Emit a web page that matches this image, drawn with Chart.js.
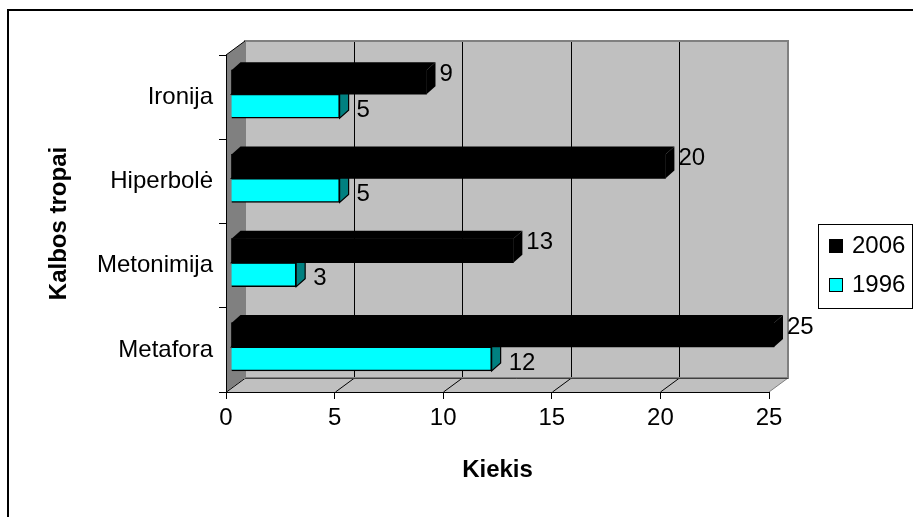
<!DOCTYPE html>
<html>
<head>
<meta charset="utf-8">
<script src="https://cdn.jsdelivr.net/npm/chart.js@4.4.0/dist/chart.umd.min.js"></script>
<style>
  html, body { margin: 0; padding: 0; background: #fff; overflow: hidden; }
  #wrap { width: 913px; height: 517px; }
</style>
</head>
<body>
<div id="wrap"><canvas id="c" width="913" height="517"></canvas></div>
<script>
// Data
const categories = ['Ironija', 'Hiperbolė', 'Metonimija', 'Metafora'];
const values2006 = [9, 20, 13, 25];
const values1996 = [5, 5, 3, 12];
const seriesNames = ['2006', '1996'];
const valueTicks = [0, 5, 10, 15, 20, 25];

const FONT = "'Liberation Sans', Arial, Helvetica, sans-serif";

// Oblique 3D look: wall depth, bar placement inside the depth, bar thickness in depth
const WALL = { dx: 19, dy: -14 };
const BAR_SHIFT = { dx: 5, dy: -3 };
const BAR_DEPTH = { dx: 9, dy: -8 };

const faceStyle = {
  0: { top: '#000000', side: '#000000', stroke: null },
  1: { top: '#00c0c0', side: '#008080', stroke: '#000000' }
};

function poly(ctx, pts, fill, stroke, lw) {
  ctx.beginPath();
  ctx.moveTo(pts[0][0], pts[0][1]);
  for (let i = 1; i < pts.length; i++) ctx.lineTo(pts[i][0], pts[i][1]);
  ctx.closePath();
  if (fill) { ctx.fillStyle = fill; ctx.fill(); }
  if (stroke) { ctx.strokeStyle = stroke; ctx.lineWidth = lw || 1; ctx.stroke(); }
}

const room3d = {
  id: 'room3d',
  beforeDraw(chart) {
    const { ctx, chartArea: a, scales: { x } } = chart;
    const L = a.left, R = a.right, T = a.top, B = a.bottom;
    const dx = WALL.dx, dy = WALL.dy;
    ctx.save();
    ctx.fillStyle = '#ffffff';
    ctx.fillRect(0, 0, chart.width, chart.height);

    // outer frame
    ctx.strokeStyle = '#000';
    ctx.lineWidth = 2;
    ctx.beginPath();
    ctx.moveTo(8, chart.height + 4);
    ctx.lineTo(8, 10);
    ctx.lineTo(chart.width + 4, 10);
    ctx.stroke();

    // back wall
    ctx.fillStyle = '#c0c0c0';
    ctx.fillRect(L + dx, T + dy, R - L, B - T);
    // left wall
    poly(ctx, [[L, T], [L + dx, T + dy], [L + dx, B + dy], [L, B]], '#808080');
    // floor
    poly(ctx, [[L, B], [R, B], [R + dx, B + dy], [L + dx, B + dy]], '#c0c0c0');

    // grid lines on the back wall and across the floor
    ctx.strokeStyle = '#000';
    ctx.lineWidth = 1;
    valueTicks.forEach(v => {
      const px = Math.round(x.getPixelForValue(v));
      if (v !== valueTicks[0] && v !== valueTicks[valueTicks.length - 1]) {
        ctx.beginPath();
        ctx.moveTo(px + dx + 0.5, T + dy);
        ctx.lineTo(px + dx + 0.5, B + dy);
        ctx.stroke();
      }
      if (v !== valueTicks[valueTicks.length - 1]) {
        ctx.beginPath();
        ctx.moveTo(px + 0.5, B);
        ctx.lineTo(px + dx + 0.5, B + dy);
        ctx.stroke();
      }
    });

    // wall and floor edges
    ctx.strokeStyle = '#808080';
    ctx.lineWidth = 2;
    ctx.strokeRect(L + dx, T + dy, R - L, B - T);
    ctx.lineWidth = 1;
    ctx.beginPath();
    ctx.moveTo(R, B);
    ctx.lineTo(R + dx, B + dy);
    ctx.stroke();
    ctx.strokeStyle = '#404040';
    ctx.beginPath();
    ctx.moveTo(L + dx, B + dy + 0.5);
    ctx.lineTo(R + dx, B + dy + 0.5);
    ctx.stroke();
    ctx.strokeStyle = '#000';
    ctx.beginPath();
    ctx.moveTo(L, T);
    ctx.lineTo(L + dx, T + dy);
    ctx.stroke();
    ctx.restore();
  },
  beforeDatasetsDraw(chart) {
    chart.ctx.save();
    chart.ctx.translate(BAR_SHIFT.dx, BAR_SHIFT.dy);
  },
  afterDatasetDraw(chart, args) {
    const ctx = chart.ctx;
    const st = faceStyle[args.index];
    args.meta.data.forEach(el => {
      const p = el.getProps(['x', 'y', 'base', 'height'], true);
      const x0 = Math.min(p.base, p.x), x1 = Math.max(p.base, p.x);
      const top = p.y - p.height / 2, bot = p.y + p.height / 2;
      const ddx = BAR_DEPTH.dx, ddy = BAR_DEPTH.dy;
      poly(ctx, [[x0, top], [x0 + ddx, top + ddy], [x1 + ddx, top + ddy], [x1, top]], st.top, st.stroke, 1.2);
      poly(ctx, [[x1, top], [x1 + ddx, top + ddy], [x1 + ddx, bot + ddy], [x1, bot]], st.side, st.stroke, 1.2);
    });
  },
  afterDatasetsDraw(chart) {
    const ctx = chart.ctx;
    ctx.restore();
    // value labels
    ctx.save();
    ctx.font = '24px ' + FONT;
    ctx.fillStyle = '#000';
    ctx.textAlign = 'left';
    ctx.textBaseline = 'middle';
    chart.data.datasets.forEach((ds, di) => {
      const meta = chart.getDatasetMeta(di);
      meta.data.forEach((el, i) => {
        const p = el.getProps(['x', 'y'], true);
        const lx = p.x + BAR_SHIFT.dx + (di === 0 ? 13 : 17);
        const ly = p.y + BAR_SHIFT.dy + (di === 0 ? -8 : 4);
        ctx.fillText(String(ds.data[i]), lx, ly);
      });
    });
    ctx.restore();
  },
  afterDraw(chart) {
    const ctx = chart.ctx;
    ctx.save();
    // legend box
    ctx.strokeStyle = '#000';
    ctx.lineWidth = 1;
    ctx.strokeRect(818.5, 224.5, 94, 84);
    ctx.font = '24px ' + FONT;
    ctx.textAlign = 'left';
    ctx.textBaseline = 'middle';
    const rows = [246, 285];
    chart.data.datasets.forEach((ds, i) => {
      const y = rows[i];
      ctx.fillStyle = ds.backgroundColor;
      ctx.fillRect(829, y - 7, 14, 14);
      ctx.strokeStyle = '#000';
      ctx.strokeRect(829.5, y - 6.5, 13, 13);
      ctx.fillStyle = '#000';
      ctx.fillText(ds.label, 852, y);
    });
    ctx.restore();
  }
};

new Chart(document.getElementById('c'), {
  type: 'bar',
  data: {
    labels: categories,
    datasets: [
      { label: seriesNames[0], data: values2006, backgroundColor: '#000000', borderWidth: 0, barThickness: 24, clip: false },
      { label: seriesNames[1], data: values1996, backgroundColor: '#00ffff', borderColor: '#000000', borderWidth: 1.5, barThickness: 24, clip: false }
    ]
  },
  options: {
    indexAxis: 'y',
    responsive: false,
    animation: false,
    devicePixelRatio: 1,
    layout: { padding: { left: 45, top: 55, right: 144, bottom: 32 } },
    plugins: {
      legend: { display: false },
      tooltip: { enabled: false },
      title: { display: false }
    },
    scales: {
      x: {
        type: 'linear',
        position: 'bottom',
        min: 0,
        max: 25,
        afterFit: s => { s.height = 93; },
        afterBuildTicks: s => { s.ticks = valueTicks.map(v => ({ value: v })); },
        ticks: { font: { family: FONT, size: 24 }, color: '#000', padding: 5 },
        grid: { drawOnChartArea: false, drawTicks: true, tickLength: 7, color: '#000', lineWidth: 1 },
        border: { display: true, color: '#000', width: 1 },
        title: { display: true, text: 'Kiekis', color: '#000', padding: 0,
                 font: { family: FONT, size: 24, weight: 'bold' } }
      },
      y: {
        type: 'category',
        position: 'left',
        offset: true,
        afterFit: s => { s.width = 181; },
        ticks: { font: { family: FONT, size: 24 }, color: '#000', padding: 6 },
        grid: { drawOnChartArea: false, drawTicks: true, tickLength: 7, color: '#000', lineWidth: 1, offset: true },
        border: { display: true, color: '#000', width: 1 },
        title: { display: true, text: 'Kalbos tropai', color: '#000', padding: 0,
                 font: { family: FONT, size: 24, weight: 'bold' } }
      }
    }
  },
  plugins: [room3d]
});
</script>
</body>
</html>
